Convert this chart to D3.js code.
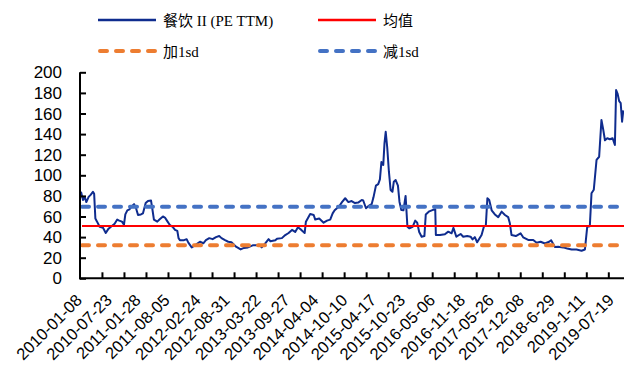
<!DOCTYPE html>
<html>
<head>
<meta charset="utf-8">
<script src="https://cdn.jsdelivr.net/npm/d3@7/dist/d3.min.js"></script>
<style>
  body { margin: 0; background: #fff; }
  svg { display: block; }
</style>
</head>
<body>
<svg id="chart" width="624" height="365"></svg>
<script>
// weekly PE (TTM) readings, sampled off the chart
const dates = [
  '2010-01-08','2010-01-21','2010-02-01','2010-02-12','2010-02-27','2010-03-12','2010-03-27','2010-04-04','2010-04-12','2010-04-23',
  '2010-05-10','2010-06-01','2010-06-19','2010-07-06','2010-07-23','2010-08-16','2010-09-02','2010-09-15','2010-10-03','2010-10-16',
  '2010-10-25','2010-11-07','2010-11-21','2010-12-07','2010-12-21','2011-01-03','2011-01-16','2011-02-04','2011-02-17','2011-03-07',
  '2011-03-22','2011-04-11','2011-04-19','2011-04-30','2011-05-22','2011-06-05','2011-06-28','2011-07-11','2011-07-24','2011-08-11',
  '2011-09-02','2011-09-15','2011-09-30','2011-10-08','2011-10-17','2011-11-13','2011-11-30','2011-12-11','2012-01-02','2012-01-23',
  '2012-02-25','2012-03-18','2012-04-04','2012-04-26','2012-05-18','2012-06-09','2012-06-30','2012-07-15','2012-08-07','2012-08-28',
  '2012-09-18','2012-10-18','2012-11-17','2012-12-09','2013-01-04','2013-02-04','2013-02-25','2013-03-19','2013-04-04','2013-04-27',
  '2013-05-19','2013-05-31','2013-07-02','2013-07-13','2013-08-14','2013-09-05','2013-09-27','2013-10-19','2013-11-09','2013-11-27',
  '2013-12-19','2014-01-10','2014-01-18','2014-02-15','2014-03-10','2014-03-20','2014-04-15','2014-05-14','2014-06-05','2014-06-26',
  '2014-07-12','2014-07-25','2014-08-09','2014-08-24','2014-09-11','2014-10-02','2014-10-23','2014-11-13','2014-12-05','2014-12-26',
  '2015-01-18','2015-01-28','2015-02-15','2015-03-02','2015-03-24','2015-04-05','2015-04-21','2015-05-06','2015-05-17','2015-05-27',
  '2015-06-08','2015-06-16','2015-06-24','2015-07-04','2015-07-15','2015-07-26','2015-08-07','2015-08-16','2015-08-28','2015-09-12',
  '2015-09-22','2015-10-04','2015-10-18','2015-11-01','2015-11-13','2015-11-26','2015-12-17','2016-01-03','2016-01-16','2016-01-29',
  '2016-02-14','2016-03-03','2016-03-12','2016-04-04','2016-04-28','2016-05-13','2016-05-17','2016-06-13','2016-07-15','2016-08-06',
  '2016-08-28','2016-09-09','2016-09-28','2016-10-26','2016-11-12','2016-12-08','2016-12-30','2017-01-12','2017-01-27','2017-02-11',
  '2017-03-12','2017-03-27','2017-04-09','2017-04-19','2017-05-01','2017-05-17','2017-06-07','2017-06-29','2017-07-21','2017-08-12',
  '2017-09-02','2017-09-13','2017-09-24','2017-10-22','2017-11-22','2017-12-09','2018-01-11','2018-02-13','2018-03-07','2018-04-02',
  '2018-04-30','2018-05-28','2018-06-10','2018-07-04','2018-07-26','2018-08-28','2018-09-23','2018-10-22','2018-11-23','2018-12-26',
  '2019-01-17','2019-02-01','2019-02-18','2019-03-01','2019-03-16','2019-04-03','2019-04-20','2019-05-05','2019-05-16','2019-05-28',
  '2019-06-12','2019-06-29','2019-07-17','2019-08-01','2019-08-09','2019-08-19','2019-08-29','2019-09-08','2019-09-17','2019-09-25'
];
const peValues = [
  84, 76, 79, 74, 79, 81, 84, 82, 58, 55,
  50, 49, 44, 48, 50, 53, 57, 56, 55, 52,
  62, 66, 67, 70, 72, 68, 61.5, 62, 63, 73,
  75, 75.5, 68, 57, 55, 57, 60, 59, 56, 52,
  49.5, 47, 46, 39, 37, 37, 38, 34.6, 30, 32,
  35.5, 34, 37, 39, 38, 40, 41, 39, 37, 35.5,
  35, 30.7, 28, 29.5, 30, 32, 32, 32.5, 30, 34,
  38, 36, 37, 38.5, 39, 42, 44, 47, 45, 49.5,
  47, 44, 55, 62.4, 61.5, 57, 58, 54, 56, 57,
  63, 66, 68, 70, 74, 77.7, 74, 75, 73, 73.5,
  76, 75.5, 68, 70, 72, 78.6, 90, 91.5, 96, 113,
  110, 131, 142.3, 127, 103.5, 85.7, 84, 93.8, 95.4, 90,
  74.4, 66.3, 66, 80, 50, 48.5, 50, 56, 54, 45,
  40.4, 41, 62, 65, 66.5, 67, 42, 42, 42.7, 45.3,
  43.7, 49, 40.4, 43, 40.4, 41, 40.4, 37.8, 40, 35,
  42, 50, 51.7, 77.7, 76, 66, 62, 59.4, 64.7, 61.5,
  59.4, 53.4, 42, 41, 43.7, 39.8, 37.2, 37.2, 34.6, 35.5,
  33.8, 35.5, 37, 30.5, 30.7, 30, 29, 28, 28, 26.8,
  28, 50, 50.5, 82.5, 86, 115, 118, 153.7, 145, 134,
  136, 135, 136, 129.4, 182.8, 179, 172, 170, 152, 163
];
const meanValue = 50.8;
const plusSdValue = 32.2;
const minusSdValue = 69.4;

const yTicks = [0, 20, 40, 60, 80, 100, 120, 140, 160, 180, 200];
const xLabels = [
  '2010-01-08','2010-07-23','2011-01-28','2011-08-05','2012-02-24','2012-08-31','2013-03-22',
  '2013-09-27','2014-04-04','2014-10-10','2015-04-17','2015-10-23','2016-05-06','2016-11-18',
  '2017-05-26','2017-12-08','2018-6-29','2019-1-11','2019-07-19'
];
const legendNames = ['餐饮 II (PE TTM)', '均值', '加1sd', '减1sd'];

const colors = { pe: '#0F2C8E', mean: '#FF0000', plus: '#ED7D31', minus: '#4472C4' };
const latinFont = '"Liberation Sans", Arial, sans-serif';
const legendFont = '"Liberation Serif", "Times New Roman", "Noto Sans CJK SC", serif';

const parse = d3.timeParse('%Y-%m-%d');
const data = dates.map((d, i) => ({ date: parse(d), value: peValues[i] }));

const svg = d3.select('#chart');

const x = d3.scaleTime()
  .domain([parse(dates[0]), parse(dates[dates.length - 1])])
  .range([81, 623.3]);
const y = d3.scaleLinear().domain([0, 200]).range([278.3, 72.3]);

const axisLeft = 80, axisRight = 624;

// series line
const line = d3.line().x(d => x(d.date)).y(d => y(d.value));
svg.append('path')
  .datum(data)
  .attr('fill', 'none')
  .attr('stroke', colors.pe)
  .attr('stroke-width', 2)
  .attr('stroke-linejoin', 'round')
  .attr('d', line);

// mean and sd lines
const hLines = [
  { v: meanValue, c: colors.mean, dash: null, w: 2 },
  { v: plusSdValue, c: colors.plus, dash: '7 9', w: 4 },
  { v: minusSdValue, c: colors.minus, dash: '7 9', w: 4 }
];
hLines.forEach(h => {
  svg.append('line')
    .attr('x1', axisLeft + 2).attr('x2', axisRight)
    .attr('y1', y(h.v)).attr('y2', y(h.v))
    .attr('stroke', h.c)
    .attr('stroke-width', h.w)
    .attr('stroke-linecap', h.dash ? 'round' : 'butt')
    .attr('stroke-dasharray', h.dash);
});

// Y axis
const gy = svg.append('g')
  .attr('transform', `translate(${axisLeft},0)`)
  .call(d3.axisRight(y).tickValues(yTicks).tickSize(6).tickFormat(''));
gy.select('.domain').remove();
gy.selectAll('line').attr('stroke', '#000').attr('stroke-width', 2);
svg.append('line')
  .attr('x1', axisLeft).attr('x2', axisLeft)
  .attr('y1', y(0) + 1).attr('y2', y(200))
  .attr('stroke', '#000').attr('stroke-width', 2);
svg.append('g').selectAll('text')
  .data(yTicks)
  .enter().append('text')
  .attr('x', 62)
  .attr('y', d => y(d) + 6)
  .attr('text-anchor', 'end')
  .attr('font-family', latinFont)
  .attr('font-size', '17px')
  .attr('fill', '#000')
  .text(d => d);

// X axis: tick marks every 144 days, inward
const tickStart = parse('2010-01-01');
const xTickDates = d3.range(1, 25).map(i => d3.timeDay.offset(tickStart, i * 144));
const gx = svg.append('g')
  .attr('transform', `translate(0,${y(0)})`)
  .call(d3.axisTop(x).tickValues(xTickDates).tickSize(6).tickFormat(''));
gx.select('.domain').remove();
gx.selectAll('line').attr('stroke', '#000').attr('stroke-width', 2);
svg.append('line')
  .attr('x1', axisLeft - 1).attr('x2', axisRight)
  .attr('y1', y(0)).attr('y2', y(0))
  .attr('stroke', '#000').attr('stroke-width', 2);

const labelParse = d3.timeParse('%Y-%m-%d');
svg.append('g').selectAll('text')
  .data(xLabels)
  .enter().append('text')
  .attr('transform', d => `translate(${x(labelParse(d)) + 2},${y(0) + 23}) rotate(-45)`)
  .attr('text-anchor', 'end')
  .attr('font-family', latinFont)
  .attr('font-size', '16.5px')
  .attr('fill', '#000')
  .text(d => d);

// Legend
const legend = svg.append('g');
const legendItems = [
  { name: legendNames[0], c: colors.pe, dash: null, w: 2.5, x: 98, y: 20 },
  { name: legendNames[1], c: colors.mean, dash: null, w: 2.5, x: 318, y: 20 },
  { name: legendNames[2], c: colors.plus, dash: '7 9', w: 4, x: 98, y: 51 },
  { name: legendNames[3], c: colors.minus, dash: '7 9', w: 4, x: 318, y: 51 }
];
legendItems.forEach(it => {
  legend.append('line')
    .attr('x1', it.x + (it.dash ? 2 : 0)).attr('x2', it.x + 58)
    .attr('y1', it.y).attr('y2', it.y)
    .attr('stroke', it.c)
    .attr('stroke-width', it.w)
    .attr('stroke-linecap', it.dash ? 'round' : 'butt')
    .attr('stroke-dasharray', it.dash);
  legend.append('text')
    .attr('x', it.x + 65)
    .attr('y', it.y + 6)
    .attr('font-family', legendFont)
    .attr('font-size', '15px')
    .attr('fill', '#000')
    .text(it.name);
});
</script>
</body>
</html>
